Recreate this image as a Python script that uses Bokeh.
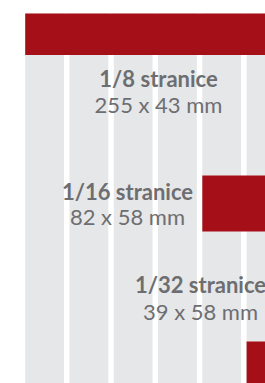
from bokeh.plotting import figure
from bokeh.models import Range1d, ColumnDataSource
from bokeh.core.properties import value
from bokeh.embed import file_html
from bokeh.resources import INLINE

# ---- data ----
sizes = ["1/8 stranice", "1/16 stranice", "1/32 stranice"]
widths_mm = [255, 82, 39]
heights_mm = [43, 58, 58]
dims = [f"{w} x {h} mm" for w, h in zip(widths_mm, heights_mm)]
n_columns = 6

# ---- layout (mm, y grows downward) ----
col_w = 39.0
gutter = 5.5
pitch = col_w + gutter
start_col = [0, 4, 5]
bar_top = [0, 168, 340]
text_x = [134.0, 102.8, 176.2]
text_y1 = [67.0, 184.4, 281.1]
text_y2 = [94.0, 210.7, 308.8]

RED = "#a50f18"
GRAY = "#e6e7e8"
TXT = "#6d6e71"

W, H = 265, 383
sx, sy = 0.995, 0.965
x_start = (0 - 24.7) / sx
x_end = x_start + W / sx
y_start = (0 - 13) / sy
y_end = y_start + H / sy

p = figure(width=W, height=H, output_backend="svg", toolbar_location=None,
           x_range=Range1d(x_start, x_end), y_range=Range1d(y_end, y_start),
           min_border=0, border_fill_color="white", background_fill_color="white")
p.axis.visible = False
p.grid.visible = False
p.outline_line_color = None

cols = ColumnDataSource(dict(
    left=[i * pitch for i in range(n_columns + 1)],
    right=[i * pitch + col_w for i in range(n_columns + 1)],
    top=[0] * (n_columns + 1),
    bottom=[420] * (n_columns + 1),
))
p.quad(left="left", right="right", top="top", bottom="bottom", source=cols,
       fill_color=GRAY, line_color=None)

bars = ColumnDataSource(dict(
    left=[c * pitch for c in start_col],
    right=[c * pitch + w for c, w in zip(start_col, widths_mm)],
    top=bar_top,
    bottom=[t + h for t, h in zip(bar_top, heights_mm)],
))
p.quad(left="left", right="right", top="top", bottom="bottom", source=bars,
       fill_color=RED, line_color=None)

p.text(x=text_x, y=text_y1, text=sizes, text_font=value("Lato"),
       text_font_style="bold", text_font_size="22px", text_color=TXT,
       text_align="center", text_baseline="alphabetic")
p.text(x=text_x, y=text_y2, text=dims, text_font=value("Lato"),
       text_font_style="normal", text_font_size="22px", text_color=TXT,
       text_align="center", text_baseline="alphabetic")

open("out.html", "w").write(file_html(p, INLINE))
